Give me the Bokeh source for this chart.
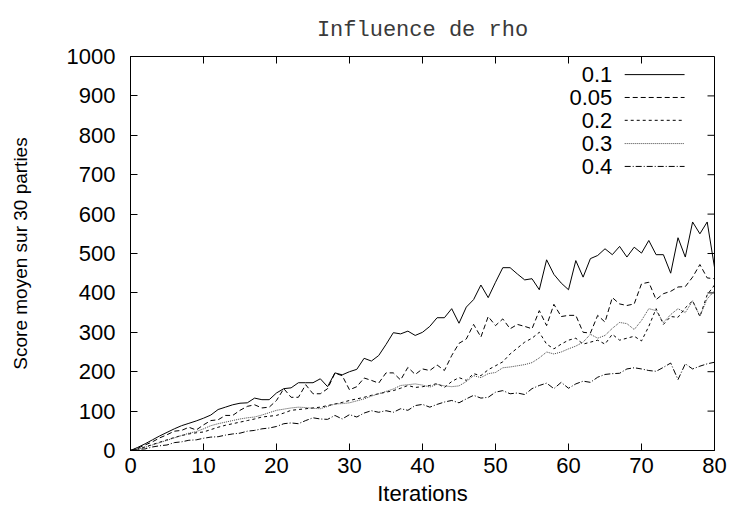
from bokeh.plotting import figure
from bokeh.embed import file_html
from bokeh.resources import INLINE
from bokeh.models import Range1d, FixedTicker
from bokeh.core.properties import value

iterations = list(range(0, 81))

rho_labels = ["0.1", "0.05", "0.2", "0.3", "0.4"]

score_01 = [0, 8, 17, 27, 37, 46, 55, 63, 69, 75, 82, 90, 104, 110, 116, 120, 121, 133, 129, 129,
            146, 157, 159, 172, 172, 172, 182, 162, 197, 192, 200, 206, 234, 227, 241, 269, 299, 296, 303, 292,
            300, 315, 337, 337, 360, 323, 364, 383, 420, 388, 427, 464, 464, 448, 433, 436, 408, 484, 447, 425,
            408, 482, 440, 487, 495, 512, 497, 518, 491, 516, 501, 533, 497, 497, 450, 540, 491, 580, 550, 580,
            465]

score_005 = [0, 6, 14, 22, 32, 40, 49, 51, 59, 52, 65, 76, 78, 89, 89, 102, 112, 116, 108, 110,
             127, 157, 135, 135, 167, 144, 144, 157, 196, 190, 154, 162, 184, 178, 171, 197, 197, 179, 211, 193,
             207, 203, 217, 203, 241, 272, 283, 320, 288, 340, 317, 334, 309, 320, 315, 309, 355, 317, 371, 340,
             343, 343, 300, 298, 343, 326, 388, 372, 368, 372, 423, 427, 383, 398, 404, 415, 416, 440, 472, 438,
             436]

score_02 = [0, 4, 9, 15, 21, 27, 33, 38, 42, 45, 47, 53, 59, 64, 68, 72, 76, 80, 85, 87,
            89, 95, 102, 104, 106, 108, 110, 114, 118, 122, 127, 131, 135, 140, 144, 148, 152, 158, 165, 160,
            162, 165, 170, 160, 175, 185, 178, 195, 190, 205, 215, 225, 245, 260, 275, 285, 300, 270, 258, 270,
            280, 285, 270, 275, 280, 270, 295, 280, 285, 290, 278, 315, 360, 320, 340, 338, 362, 380, 340, 395,
            420]

score_03 = [0, 3, 8, 14, 20, 26, 32, 38, 44, 48, 55, 63, 68, 72, 76, 80, 83, 85, 90, 96,
            102, 105, 108, 110, 109, 107, 106, 112, 118, 119, 121, 126, 131, 138, 144, 150, 156, 165, 167, 169,
            166, 161, 168, 164, 162, 164, 175, 190, 185, 195, 198, 210, 212, 215, 218, 223, 235, 250, 245, 250,
            258, 265, 275, 295, 285, 292, 310, 325, 322, 307, 330, 360, 355, 325, 345, 360, 350, 380, 341, 385,
            405]

score_04 = [0, 3, 4, 9, 12, 14, 20, 22, 26, 27, 31, 34, 35, 39, 42, 44, 49, 51, 55, 57,
            61, 68, 70, 68, 76, 83, 80, 79, 89, 80, 91, 85, 95, 101, 97, 101, 97, 106, 102, 114,
            117, 110, 117, 123, 127, 121, 131, 140, 133, 135, 148, 152, 144, 146, 142, 157, 165, 171, 157, 173,
            158, 169, 176, 173, 186, 193, 195, 196, 207, 210, 207, 203, 201, 211, 222, 180, 220, 207, 214, 220,
            224]

series = [score_01, score_005, score_02, score_03, score_04]
dashes = ["solid", "5 3", "3 3", "1 1", "6 2 1 2"]
colors = ["#000000", "#000000", "#000000", "#444444", "#000000"]

x_ticks = [0, 10, 20, 30, 40, 50, 60, 70, 80]
y_ticks = [0, 100, 200, 300, 400, 500, 600, 700, 800, 900, 1000]

X_MIN, X_MAX, Y_MIN, Y_MAX = 0, 80, 0, 1000
FRAME_W, FRAME_H = 584, 394
TICK_PX = 7

p = figure(width=729, height=514, output_backend="svg", toolbar_location=None,
           x_range=Range1d(X_MIN, X_MAX), y_range=Range1d(Y_MIN, Y_MAX),
           min_border_left=130, min_border_right=15, min_border_top=56, min_border_bottom=64,
           x_axis_label="Iterations", y_axis_label="Score moyen sur 30 parties")

p.title.text = "Influence de rho"
p.title.align = "center"
p.title.text_font = "Liberation Mono"
p.title.text_font_style = "normal"
p.title.text_font_size = "22px"
p.title.text_color = "#3a3a3a"
p.title.standoff = 28

p.xgrid.visible = False
p.ygrid.visible = False
p.outline_line_color = "black"
p.outline_line_width = 1
p.background_fill_color = "white"
p.border_fill_color = "white"

for ax in [p.xaxis[0], p.yaxis[0]]:
    ax.major_tick_in = TICK_PX
    ax.major_tick_out = 0
    ax.minor_tick_in = 0
    ax.minor_tick_out = 0
    ax.axis_line_color = "black"
    ax.major_tick_line_color = "black"
    ax.major_label_text_font = "Liberation Sans"
    ax.major_label_text_font_size = "22px"
    ax.major_label_text_color = "black"
    ax.axis_label_text_font = "Liberation Sans"
    ax.axis_label_text_font_style = "normal"
    ax.axis_label_text_color = "black"

p.xaxis[0].axis_label_text_font_size = "22px"
p.yaxis[0].axis_label_text_font_size = "19px"
p.xaxis[0].ticker = FixedTicker(ticks=x_ticks)
p.yaxis[0].ticker = FixedTicker(ticks=y_ticks)
p.xaxis[0].major_label_standoff = 7
p.xaxis[0].axis_label_standoff = 5
p.yaxis[0].major_label_standoff = 15
p.yaxis[0].axis_label_standoff = 33

# mirror ticks on the top and right edges (gnuplot style)
dy = TICK_PX * (Y_MAX - Y_MIN) / FRAME_H
dx = TICK_PX * (X_MAX - X_MIN) / FRAME_W
p.segment(x0=x_ticks, y0=[Y_MAX] * len(x_ticks), x1=x_ticks, y1=[Y_MAX - dy] * len(x_ticks),
          line_color="black", line_width=1)
p.segment(x0=[X_MAX] * len(y_ticks), y0=y_ticks, x1=[X_MAX - dx] * len(y_ticks), y1=y_ticks,
          line_color="black", line_width=1)

for ys, dash, col in zip(series, dashes, colors):
    p.line(iterations, ys, line_color=col, line_dash=dash, line_width=1)

# legend (label text to the left of the line sample, as in gnuplot)
leg_y = [954, 896, 838, 779, 721]
p.text(x=[66.0] * 5, y=leg_y, text=rho_labels, text_align="right", text_baseline="middle",
       text_font=value("Liberation Sans"), text_font_size="22px", text_color="black")
for yy, dash, col in zip(leg_y, dashes, colors):
    p.segment(x0=[67.7], y0=[yy], x1=[75.9], y1=[yy], line_color=col, line_dash=dash, line_width=1)

open("out.html", "w").write(file_html(p, INLINE))
